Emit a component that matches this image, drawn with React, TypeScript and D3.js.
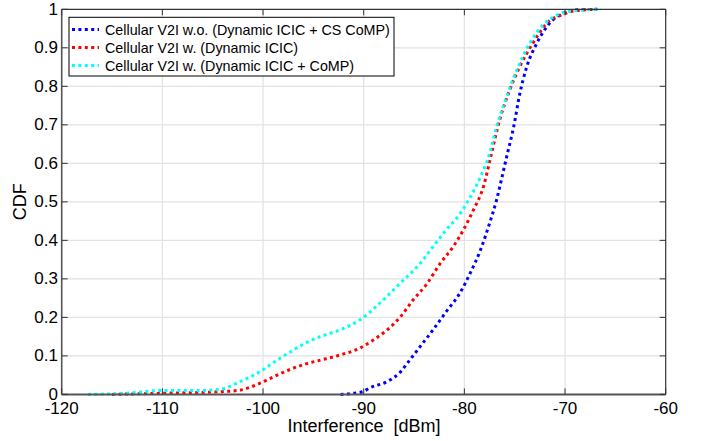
import React from "react";
import * as d3 from "d3";

const W = 702;
const H = 441;

const seriesNames = [
  "Cellular V2I w.o. (Dynamic ICIC + CS CoMP)",
  "Cellular V2I w. (Dynamic ICIC)",
  "Cellular V2I w. (Dynamic ICIC + CoMP)",
];
const seriesColors = ["#0000ff", "#ff0000", "#00ffff"];

const blueX = [-92.3, -91, -90, -89.4, -87.7, -86.4, -85.4, -84.4, -83.1, -81.8, -80.4, -79.4, -78.4, -77.5, -76.8, -76.3, -75.8, -75.1, -74.5, -73.8, -72.8, -71.8, -70.8, -69.8, -68.5, -66.5];
const blueY = [0, 0.003, 0.008, 0.017, 0.033, 0.057, 0.09, 0.124, 0.168, 0.215, 0.265, 0.316, 0.375, 0.444, 0.505, 0.56, 0.617, 0.695, 0.78, 0.851, 0.912, 0.955, 0.981, 0.994, 0.999, 1];

const redX = [-115, -110, -104.3, -102.3, -100.3, -98.6, -97, -95.5, -94.3, -92.4, -90.4, -89.05, -87.7, -86.4, -85.1, -83.7, -82.4, -81.1, -80.1, -79.1, -78.1, -77.4, -76.5, -75.5, -74.5, -73.2, -71.8, -70.4, -69, -67];
const redY = [0, 0.003, 0.007, 0.011, 0.029, 0.05, 0.068, 0.081, 0.089, 0.102, 0.12, 0.141, 0.167, 0.2, 0.245, 0.288, 0.34, 0.384, 0.427, 0.479, 0.54, 0.615, 0.712, 0.79, 0.851, 0.912, 0.964, 0.985, 0.996, 1];

const cyanX = [-117.4, -113.5, -110.2, -106.9, -104.3, -102.3, -100.3, -98.6, -97, -95.5, -94.3, -92.4, -90.4, -88.4, -86.4, -84.4, -83.1, -81.8, -80.4, -79.4, -78.4, -77.6, -76.8, -75.8, -74.8, -73.5, -72.2, -70.8, -69.2, -66.5];
const cyanY = [0, 0.003, 0.01, 0.01, 0.013, 0.033, 0.059, 0.089, 0.115, 0.137, 0.15, 0.167, 0.193, 0.237, 0.288, 0.34, 0.384, 0.427, 0.47, 0.513, 0.565, 0.617, 0.695, 0.773, 0.842, 0.912, 0.959, 0.985, 0.996, 1];

const xTicks = [-120, -110, -100, -90, -80, -70, -60];
const yTicks = [0, 0.1, 0.2, 0.3, 0.4, 0.5, 0.6, 0.7, 0.8, 0.9, 1];

const L = 61.7, R = 665.7, T = 9.3, B = 394.4;

export default function App() {
  const x = d3.scaleLinear().domain([-120, -60]).range([L, R]);
  const y = d3.scaleLinear().domain([0, 1]).range([B, T]);
  const line = d3
    .line<[number, number]>()
    .x((d) => x(d[0]))
    .y((d) => y(d[1]))
    .curve(d3.curveMonotoneX);
  const series = [
    blueX.map((v, i) => [v, blueY[i]] as [number, number]),
    redX.map((v, i) => [v, redY[i]] as [number, number]),
    cyanX.map((v, i) => [v, cyanY[i]] as [number, number]),
  ];
  const font = "'Liberation Sans', Arial, Helvetica, sans-serif";
  const tl = 6;
  const legendRows = [29.5, 47.5, 65.5];
  return (
    <svg
      width={W}
      height={H}
      style={{ position: "absolute", left: 0, top: 0, display: "block", background: "#fff" }}
      fontFamily={font}
    >
      <rect x={0} y={0} width={W} height={H} fill="#fff" />
      {xTicks.slice(1, -1).map((t) => (
        <line key={"gx" + t} x1={x(t)} x2={x(t)} y1={T} y2={B} stroke="#e2e2e2" strokeWidth={1.2} />
      ))}
      {yTicks.slice(1, -1).map((t) => (
        <line key={"gy" + t} x1={L} x2={R} y1={y(t)} y2={y(t)} stroke="#e2e2e2" strokeWidth={1.2} />
      ))}
      {series.map((s, i) => (
        <path
          key={"s" + i}
          d={line(s) || ""}
          fill="none"
          stroke={seriesColors[i]}
          strokeWidth={3}
          strokeDasharray="3,3.4"
        />
      ))}
      <line x1={L} x2={R} y1={T} y2={T} stroke="#333" strokeWidth={1.2} />
      <line x1={R} x2={R} y1={T} y2={B} stroke="#333" strokeWidth={1.2} />
      <line x1={L} x2={L} y1={T} y2={B} stroke="#555" strokeWidth={1.6} />
      <line x1={L} x2={R} y1={B} y2={B} stroke="#555" strokeWidth={2} />
      {xTicks.map((t) => (
        <g key={"xt" + t}>
          <line x1={x(t)} x2={x(t)} y1={B} y2={B - tl} stroke="#333" strokeWidth={1} />
          <line x1={x(t)} x2={x(t)} y1={T} y2={T + tl} stroke="#333" strokeWidth={1} />
          <text x={x(t)} y={413.5} textAnchor="middle" fontSize={17} fill="#000">
            {t}
          </text>
        </g>
      ))}
      {yTicks.map((t) => (
        <g key={"yt" + t}>
          <line x1={L} x2={L + tl} y1={y(t)} y2={y(t)} stroke="#333" strokeWidth={1} />
          <line x1={R} x2={R - tl} y1={y(t)} y2={y(t)} stroke="#333" strokeWidth={1} />
          <text x={58} y={y(t) + 5.5} textAnchor="end" fontSize={17} fill="#000">
            {t}
          </text>
        </g>
      ))}
      <text x={364} y={432} textAnchor="middle" fontSize={18} fill="#000" style={{ whiteSpace: "pre" }}>
        {"Interference  [dBm]"}
      </text>
      <text transform={`translate(26,${y(0.5)}) rotate(-90)`} textAnchor="middle" fontSize={18} fill="#000">
        CDF
      </text>
      <rect x={69} y={17.3} width={325} height={58.7} fill="#fff" stroke="#000" strokeWidth={1} />
      {seriesNames.map((n, i) => (
        <g key={"lg" + i}>
          <line
            x1={72}
            x2={99}
            y1={legendRows[i]}
            y2={legendRows[i]}
            stroke={seriesColors[i]}
            strokeWidth={3}
            strokeDasharray="3,3.4"
          />
          <text x={105} y={legendRows[i] + 5} fontSize={14.3} fill="#000">
            {n}
          </text>
        </g>
      ))}
    </svg>
  );
}
